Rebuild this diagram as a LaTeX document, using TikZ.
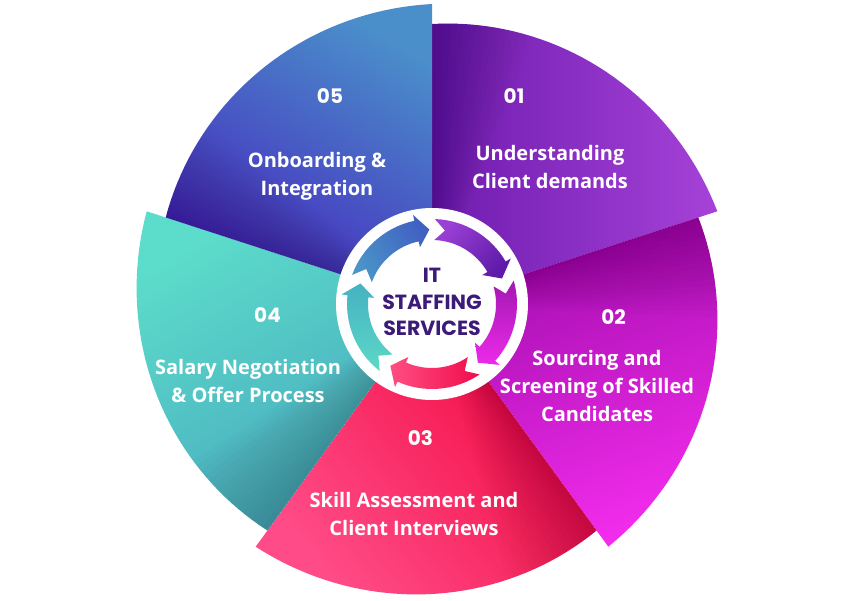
\documentclass[tikz,border=0pt]{standalone}
\usepackage{fontspec}
\setmainfont{Open Sans}
\newfontfamily\headfont{Poppins}
\definecolor{s1a}{HTML}{6E1CAE}
\definecolor{s1b}{HTML}{A642D8}
\definecolor{s2a}{HTML}{A00CAC}
\definecolor{s2b}{HTML}{F22CEC}
\definecolor{s3a}{HTML}{F2073E}
\definecolor{s3b}{HTML}{FF4C88}
\definecolor{s4a}{HTML}{5CDCCA}
\definecolor{s4b}{HTML}{47A6BE}
\definecolor{s5a}{HTML}{4A8ECA}
\definecolor{s5b}{HTML}{4622BE}
\definecolor{a1a}{HTML}{9A40D4}
\definecolor{a1b}{HTML}{5E1AA8}
\definecolor{a2a}{HTML}{A418B2}
\definecolor{a2b}{HTML}{EC2AEA}
\definecolor{a3a}{HTML}{F00C4C}
\definecolor{a3b}{HTML}{FF4E82}
\definecolor{a4a}{HTML}{46B2C2}
\definecolor{a4b}{HTML}{5CD8C6}
\definecolor{a5a}{HTML}{4060C2}
\definecolor{a5b}{HTML}{4A94C8}
\definecolor{hubtext}{HTML}{3B1A78}
\begin{document}
\begin{tikzpicture}[x=1pt,y=1pt,
    num/.style={text=white, anchor=base, inner sep=0pt,
      font=\headfont\bfseries\fontsize{20}{20}\selectfont},
    lbl/.style={text=white, anchor=north, inner sep=0pt, align=center,
      font=\bfseries\fontsize{20}{28}\selectfont},
    disc/.style={circle, fill=white, minimum size=192pt, inner sep=0pt},
    title/.style={text=hubtext, align=center, inner sep=0pt,
      font=\headfont\bfseries\fontsize{20.5}{26.7}\selectfont}]
  \useasboundingbox (0,0) rectangle (850,600);
  \begin{scope}[shift={(432,296)}]
    \foreach \s/\ca/\cb/\ang in {90/s1a/s1b/90, 18/s2a/s2b/20, -54/s3a/s3b/-50,
        -126/s4a/s4b/30, 162/s5a/s5b/-30} {
      \shade[top color=\ca, bottom color=\cb, shading angle=\ang]
        (0,0) -- plot[domain=0:72, samples=40] ({\s-\x}:{280+20*\x/72}) -- cycle;
      \begin{scope}
        \clip (0,0) -- plot[domain=0:72, samples=40] ({\s-\x}:{280+20*\x/72}) -- cycle;
        \foreach \i in {1,...,16}
          \fill[black, opacity=0.013] (0,0) -- (\s:320)
            arc[start angle=\s, end angle=\s-1.3*\i, radius=320] -- cycle;
      \end{scope}
    }

    \node[disc] (hub) at (0,0) {};

    \foreach \b/\ca/\cb/\ang in {90/a1a/a1b/45, 18/a2a/a2b/0, -54/a3a/a3b/-90,
        -126/a4a/a4b/0, 162/a5a/a5b/-60}
      \shade[top color=\ca, bottom color=\cb, shading angle=\ang]
        ({\b-2}:85) arc[start angle=\b-2, end angle=\b-60, radius=85]
        -- ({\b-60}:91) -- ({\b-70}:74.5) -- ({\b-60}:58) -- ({\b-60}:64)
        arc[start angle=\b-60, end angle=\b-2, radius=64]
        -- ({\b-10}:74.5) -- cycle;

    \node[title] (title) at (0,2) {IT\\STAFFING\\SERVICES};

    \node[num] (n01) at (82,200) {01};
    \node[num] (n02) at (181.5,-20) {02};
    \node[num] (n03) at (-11.5,-141) {03};
    \node[num] (n04) at (-164.5,-19) {04};
    \node[num] (n05) at (-102,200) {05};

    \node[lbl] (t01) at (118,159.2) {Understanding\\Client demands};
    \node[lbl] (t02) at (165,-45.8) {Sourcing and\\Screening of Skilled\\Candidates};
    \node[lbl] (t03) at (-18,-187.8) {Skill Assessment and\\Client Interviews};
    \node[lbl] (t04) at (-184,-54.8) {Salary Negotiation\\\& Offer Process};
    \node[lbl] (t05) at (-115,151.5) {Onboarding \&\\Integration};
  \end{scope}
\end{tikzpicture}
\end{document}
